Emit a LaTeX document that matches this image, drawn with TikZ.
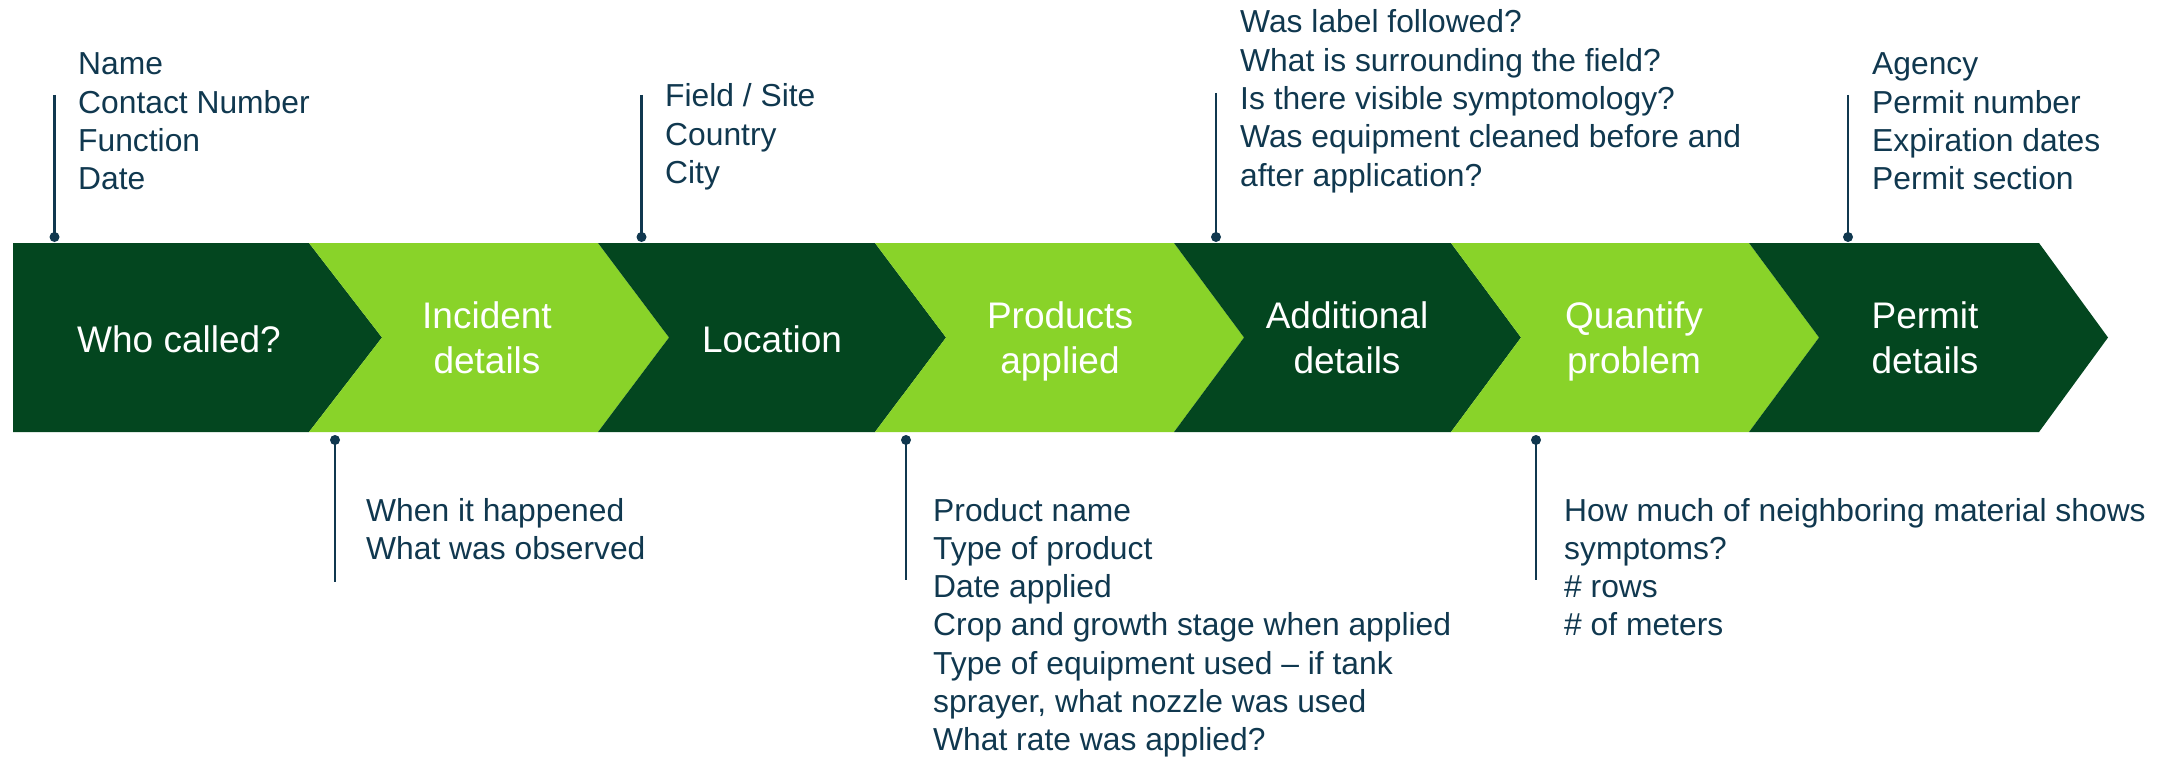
\documentclass[tikz,border=0pt]{standalone}
\usepackage{fontspec}
\setmainfont{Liberation Sans}
\definecolor{dkgreen}{HTML}{03461F}
\definecolor{ltgreen}{HTML}{89D329}
\definecolor{navy}{HTML}{10384F}
\newcommand{\lblock}[1]{\begin{tabular}[t]{@{}l@{}}#1\end{tabular}}
\newcommand{\cblock}[1]{\begin{tabular}[t]{@{}c@{}}#1\end{tabular}}
\tikzset{
  darkstep/.style={fill=dkgreen},
  lightstep/.style={fill=ltgreen},
  steplabel/.style={anchor=base, inner sep=0pt, text=white, font=\fontsize{37}{45}\selectfont},
  infotext/.style={anchor=base west, inner sep=0pt, text=navy, font=\fontsize{31.8}{38.3}\selectfont},
  pinline/.style={draw=navy, line width=2.2pt},
  pindot/.style={fill=navy},
}
\begin{document}
\begin{tikzpicture}[x=1pt,y=-1pt]
\useasboundingbox (0,0) rectangle (2173,757);
% chevron band
\fill[darkstep]  (13,243) -- (309,243) -- (382,337.5) -- (309,432) -- (13,432) -- cycle;
\fill[lightstep] (309,243) -- (598,243) -- (669,337.5) -- (598,432) -- (309,432) -- (382,337.5) -- cycle;
\fill[darkstep]  (598,243) -- (875,243) -- (946,337.5) -- (875,432) -- (598,432) -- (669,337.5) -- cycle;
\fill[lightstep] (875,243) -- (1174,243) -- (1244,337.5) -- (1174,432) -- (875,432) -- (946,337.5) -- cycle;
\fill[darkstep]  (1174,243) -- (1451,243) -- (1521,337.5) -- (1451,432) -- (1174,432) -- (1244,337.5) -- cycle;
\fill[lightstep] (1451,243) -- (1749,243) -- (1819,337.5) -- (1749,432) -- (1451,432) -- (1521,337.5) -- cycle;
\fill[darkstep]  (1749,243) -- (2039,243) -- (2108,337.5) -- (2039,432) -- (1749,432) -- (1819,337.5) -- cycle;
% step labels
\node[steplabel] (s1) at (179,352) {Who called?};
\node[steplabel] (s2) at (487,328) {\cblock{Incident\\details}};
\node[steplabel] (s3) at (772,352) {Location};
\node[steplabel] (s4) at (1060,328) {\cblock{Products\\applied}};
\node[steplabel] (s5) at (1347,328) {\cblock{Additional\\details}};
\node[steplabel] (s6) at (1634,328) {\cblock{Quantify\\problem}};
\node[steplabel] (s7) at (1925,328) {\cblock{Permit\\details}};
% pins above
\coordinate (t1a) at (54.5,95);  \coordinate (t1b) at (54.5,237);
\coordinate (t2a) at (641.5,95); \coordinate (t2b) at (641.5,237);
\coordinate (t3a) at (1216,93);  \coordinate (t3b) at (1216,237);
\coordinate (t4a) at (1848,95);  \coordinate (t4b) at (1848,237);
\draw[pinline] (t1a) -- (t1b);
\draw[pinline] (t2a) -- (t2b);
\draw[pinline] (t3a) -- (t3b);
\draw[pinline] (t4a) -- (t4b);
\fill[pindot] (t1b) circle (5);
\fill[pindot] (t2b) circle (5);
\fill[pindot] (t3b) circle (5);
\fill[pindot] (t4b) circle (5);
% pins below
\coordinate (b1a) at (335,440);  \coordinate (b1b) at (335,582);
\coordinate (b2a) at (906,440);  \coordinate (b2b) at (906,580);
\coordinate (b3a) at (1536,440); \coordinate (b3b) at (1536,580);
\draw[pinline] (b1a) -- (b1b);
\draw[pinline] (b2a) -- (b2b);
\draw[pinline] (b3a) -- (b3b);
\fill[pindot] (b1a) circle (5);
\fill[pindot] (b2a) circle (5);
\fill[pindot] (b3a) circle (5);
% info texts
\node[infotext] (i1) at (78,75) {\lblock{Name\\Contact Number\\Function\\Date}};
\node[infotext] (i2) at (665,107) {\lblock{Field / Site\\Country\\City}};
\node[infotext] (i3) at (1240,33) {\lblock{Was label followed?\\What is surrounding the field?\\Is there visible symptomology?\\Was equipment cleaned before and\\after application?}};
\node[infotext] (i4) at (1872,75) {\lblock{Agency\\Permit number\\Expiration dates\\Permit section}};
\node[infotext] (i5) at (366,521) {\lblock{When it happened\\What was observed}};
\node[infotext] (i6) at (933,521) {\lblock{Product name\\Type of product\\Date applied\\Crop and growth stage when applied\\Type of equipment used – if tank\\sprayer, what nozzle was used\\What rate was applied?}};
\node[infotext] (i7) at (1564,521) {\lblock{How much of neighboring material shows\\symptoms?\\\# rows\\\# of meters}};
\end{tikzpicture}
\end{document}
